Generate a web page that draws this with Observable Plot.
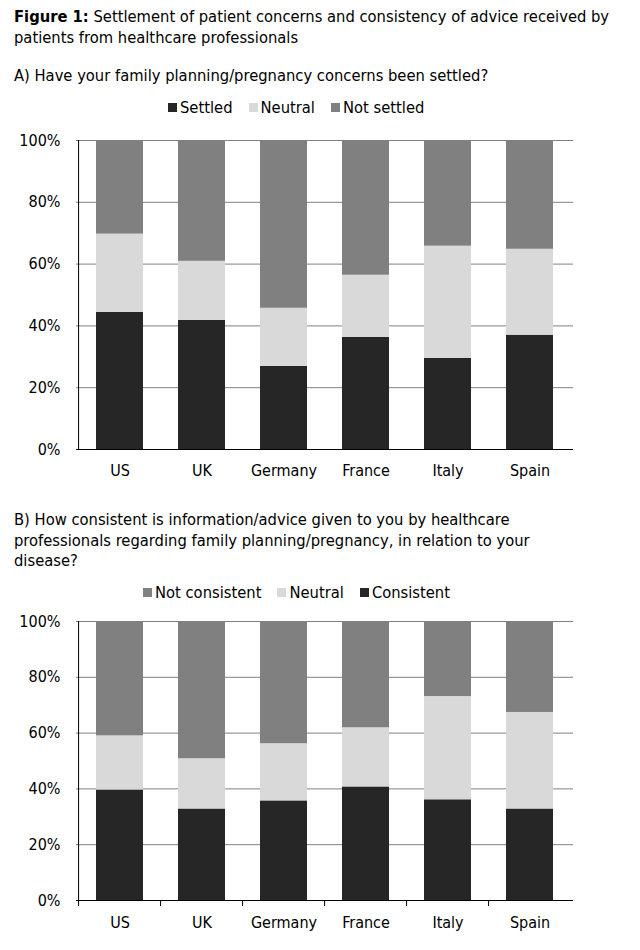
<!DOCTYPE html>
<html>
<head>
<meta charset="utf-8">
<script src="https://cdn.jsdelivr.net/npm/d3@7"></script>
<script src="https://cdn.jsdelivr.net/npm/@observablehq/plot@0.6"></script>
<style>
  body { margin: 0; background: #fff; font-family: "DejaVu Sans Condensed", "DejaVu Sans", sans-serif; color: #000; }
  #page { position: relative; width: 640px; height: 950px; }
  .txt { position: absolute; left: 14px; font-size: 16.4px; line-height: 20.5px; white-space: nowrap; }
  .legend { position: absolute; font-size: 16.4px; line-height: 20px; white-space: nowrap; }
  .legend span.sw { display: inline-block; width: 9px; height: 9px; margin-right: 3px; vertical-align: 1px; }
  .legend span.item { margin-right: 16px; }
  .chart { position: absolute; left: 0; }
</style>
</head>
<body>
<div id="page">
  <div class="txt" style="top:7px"><b>Figure 1:</b> Settlement of patient concerns and consistency of advice received by<br>patients from healthcare professionals</div>
  <div class="txt" style="top:66px">A) Have your family planning/pregnancy concerns been settled?</div>
  <div class="legend" id="legA" style="top:98px; left:168px"></div>
  <div class="chart" id="chartA" style="top:125px"></div>
  <div class="txt" style="top:510px">B) How consistent is information/advice given to you by healthcare<br>professionals regarding family planning/pregnancy, in relation to your<br>disease?</div>
  <div class="legend" id="legB" style="top:583px; left:143px"></div>
  <div class="chart" id="chartB" style="top:606px"></div>
</div>
<script>
const countries = ["US", "UK", "Germany", "France", "Italy", "Spain"];

// Panel A (bottom to top)
const seriesA = ["Settled", "Neutral", "Not settled"];
const settledA    = [44.4, 41.8, 26.9, 36.3, 29.5, 37.0];
const neutralA    = [25.3, 19.1, 18.8, 20.1, 36.3, 27.8];
const notSettledA = [30.3, 39.1, 54.3, 43.6, 34.2, 35.2];

// Panel B (bottom to top)
const seriesB = ["Consistent", "Neutral", "Not consistent"];
const consistentB    = [39.6, 32.8, 35.7, 40.7, 36.1, 32.8];
const neutralB       = [19.4, 18.0, 20.5, 21.2, 37.0, 34.6];
const notConsistentB = [41.0, 49.2, 43.8, 38.1, 26.9, 32.6];

const yTicks = [0, 20, 40, 60, 80, 100];
const colors = ["#262626", "#d9d9d9", "#808080"];

function toRows(series, arrays) {
  const rows = [];
  series.forEach((s, i) => countries.forEach((c, j) => rows.push({country: c, series: s, value: arrays[i][j]})));
  return rows;
}

function makeChart(rows, series, opts) {
  const mL = 76, mR = 67;
  const step = (640 - mL - mR) / countries.length;
  const innerH = opts.innerH;
  const marks = [
    Plot.gridY(yTicks, {stroke: "#808080", strokeOpacity: 1}),
    Plot.barY(rows, {x: "country", y: "value", fill: "series", order: series}),
    Plot.ruleY([0], {stroke: "#000"}),
    Plot.ruleX([0], {x: () => countries[0], y1: 0, y2: 100, dx: -step / 2, stroke: "#000"}),
    Plot.axisY({ticks: yTicks, tickSize: 0, tickPadding: 16, tickFormat: d => d + "%", label: null, fontSize: 16}),
    Plot.axisX({tickSize: 0, tickPadding: opts.tickPad, label: null, fontSize: 16})
  ];
  if (opts.boundaryTicks) {
    const tickLen = 6 / innerH * 100;
    marks.push(Plot.ruleX(countries, {x: d => d, y1: 0, y2: -tickLen, dx: -step / 2, stroke: "#000"}));
  }
  return Plot.plot({
    width: 640,
    height: opts.height,
    marginLeft: mL,
    marginRight: mR,
    marginTop: 15,
    marginBottom: opts.height - 15 - innerH,
    style: {fontFamily: "'DejaVu Sans Condensed', 'DejaVu Sans', sans-serif", fontSize: "16px", color: "#000", background: "#fff"},
    x: {domain: countries, paddingInner: 0.43, paddingOuter: 0.215, axis: null},
    y: {domain: [0, 100], axis: null},
    color: {domain: series, range: colors},
    marks
  });
}

function legend(el, items) {
  el.innerHTML = items.map(([label, col]) =>
    `<span class="item"><span class="sw" style="background:${col}"></span>${label}</span>`).join("");
}

document.getElementById("chartA").appendChild(
  makeChart(toRows(seriesA, [settledA, neutralA, notSettledA]), seriesA, {height: 359, innerH: 309, tickPad: 15, boundaryTicks: false}));
document.getElementById("chartB").appendChild(
  makeChart(toRows(seriesB, [consistentB, neutralB, notConsistentB]), seriesB, {height: 330, innerH: 279, tickPad: 16, boundaryTicks: true}));

legend(document.getElementById("legA"), [["Settled", colors[0]], ["Neutral", colors[1]], ["Not settled", colors[2]]]);
legend(document.getElementById("legB"), [["Not consistent", colors[2]], ["Neutral", colors[1]], ["Consistent", colors[0]]]);
</script>
</body>
</html>
